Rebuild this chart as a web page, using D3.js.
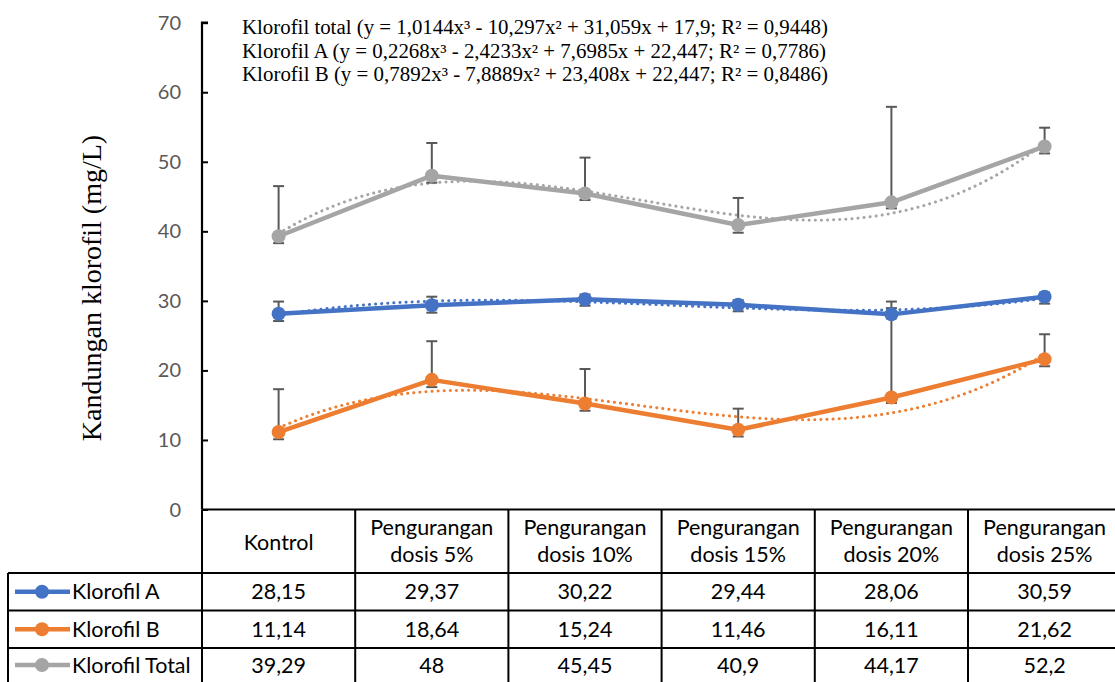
<!DOCTYPE html>
<html>
<head>
<meta charset="utf-8">
<script src="https://cdn.jsdelivr.net/npm/d3@7"></script>
<style>
  body { margin: 0; background: #fff; }
  svg { display: block; }
</style>
</head>
<body>
<div id="chart"></div>
<script>
// categories and series
var categories = ["Kontrol", "Pengurangan dosis 5%", "Pengurangan dosis 10%",
                  "Pengurangan dosis 15%", "Pengurangan dosis 20%", "Pengurangan dosis 25%"];
var seriesNames = ["Klorofil A", "Klorofil B", "Klorofil Total"];
var klorofilA = [28.15, 29.37, 30.22, 29.44, 28.06, 30.59];
var klorofilB = [11.14, 18.64, 15.24, 11.46, 16.11, 21.62];
var klorofilTotal = [39.29, 48, 45.45, 40.9, 44.17, 52.2];
var tableText = [
  ["28,15", "29,37", "30,22", "29,44", "28,06", "30,59"],
  ["11,14", "18,64", "15,24", "11,46", "16,11", "21,62"],
  ["39,29", "48", "45,45", "40,9", "44,17", "52,2"]
];
// custom error bars (plus / minus)
var errPlusA = [1.75, 1.23, 0.7, 0.66, 0.9, 0.6];
var errMinusA = [1.05, 1.07, 0.92, 0.94, 0.56, 0.99];
var errPlusB = [6.16, 5.56, 4.96, 3.04, 13.79, 3.58];
var errMinusB = [1.04, 1.04, 1.04, 0.96, 0.8, 1.02];
var errPlusTotal = [7.21, 4.7, 5.15, 3.9, 13.73, 2.7];
var errMinusTotal = [0.99, 1.0, 0.95, 1.1, 0.87, 1.0];
var yTicks = [0, 10, 20, 30, 40, 50, 60, 70];
var equations = [
  "Klorofil total (y = 1,0144x³ - 10,297x² + 31,059x + 17,9; R² = 0,9448)",
  "Klorofil A (y = 0,2268x³ - 2,4233x² + 7,6985x + 22,447; R² = 0,7786)",
  "Klorofil B (y = 0,7892x³ - 7,8889x² + 23,408x + 22,447; R² = 0,8486)"
];
var colors = ["#4472C4", "#ED7D31", "#A5A5A5"];

var width = 1115, height = 682;
var x0 = 202, colW = 153.2;
var rowY = [509.5, 573, 610.5, 648, 686];
var sans = "Lato, 'Open Sans', sans-serif";
var serif = "'Liberation Serif', 'Times New Roman', serif";

var svg = d3.select("#chart").append("svg")
  .attr("width", width)
  .attr("height", height);

var x = d3.scaleBand()
  .domain(categories)
  .range([x0, x0 + colW * categories.length]);

var y = d3.scaleLinear()
  .domain([0, 70])
  .range([509.5, 22.7]);

// y axis
var yAxis = svg.append("g")
  .attr("transform", "translate(" + x0 + ",0)")
  .call(d3.axisRight(y).tickValues(yTicks).tickSize(6).tickFormat(""));
yAxis.select(".domain").attr("stroke", "#000").attr("stroke-width", 2.2)
  .attr("d", "M6," + y(70) + "H0V" + y(0));
yAxis.selectAll(".tick line").attr("stroke", "#000").attr("stroke-width", 2);

svg.append("g").selectAll("text")
  .data(yTicks)
  .enter().append("text")
  .attr("x", 181)
  .attr("y", function(d) { return y(d); })
  .attr("dy", "0.35em")
  .attr("text-anchor", "end")
  .attr("font-family", sans)
  .attr("font-size", 20)
  .attr("fill", "#595959")
  .text(function(d) { return d; });

svg.append("text")
  .attr("transform", "translate(101,288) rotate(-90)")
  .attr("text-anchor", "middle")
  .attr("font-family", serif)
  .attr("font-size", 28)
  .attr("fill", "#000")
  .text("Kandungan klorofil (mg/L)");

// equations
svg.append("g").selectAll("text")
  .data(equations)
  .enter().append("text")
  .attr("x", 242)
  .attr("y", function(d, i) { return 34 + i * 23.5; })
  .attr("font-family", serif)
  .attr("font-size", 20)
  .attr("textLength", function(d, i) { return i === 0 ? 586 : (i === 1 ? 584 : 586); })
  .attr("lengthAdjust", "spacingAndGlyphs")
  .attr("fill", "#000")
  .text(function(d) { return d; });

// cubic least-squares trendline from the series
function cubicFit(vals) {
  var n = 4, A = [], b = [];
  for (var r = 0; r < n; r++) {
    A.push([0, 0, 0, 0]); b.push(0);
  }
  vals.forEach(function(v, i) {
    var xi = i + 1;
    for (var r = 0; r < n; r++) {
      for (var c = 0; c < n; c++) A[r][c] += Math.pow(xi, r + c);
      b[r] += v * Math.pow(xi, r);
    }
  });
  for (var p = 0; p < n; p++) {
    var m = p;
    for (var r = p + 1; r < n; r++) if (Math.abs(A[r][p]) > Math.abs(A[m][p])) m = r;
    var t = A[p]; A[p] = A[m]; A[m] = t;
    var tb = b[p]; b[p] = b[m]; b[m] = tb;
    for (var r = p + 1; r < n; r++) {
      var f = A[r][p] / A[p][p];
      for (var c = p; c < n; c++) A[r][c] -= f * A[p][c];
      b[r] -= f * b[p];
    }
  }
  var coef = [0, 0, 0, 0];
  for (var r = n - 1; r >= 0; r--) {
    var s = b[r];
    for (var c = r + 1; c < n; c++) s -= A[r][c] * coef[c];
    coef[r] = s / A[r][r];
  }
  return function(xv) { return coef[0] + coef[1] * xv + coef[2] * xv * xv + coef[3] * xv * xv * xv; };
}

var series = [
  { name: seriesNames[0], values: klorofilA, plus: errPlusA, minus: errMinusA, color: colors[0] },
  { name: seriesNames[1], values: klorofilB, plus: errPlusB, minus: errMinusB, color: colors[1] },
  { name: seriesNames[2], values: klorofilTotal, plus: errPlusTotal, minus: errMinusTotal, color: colors[2] }
];

var cx = function(i) { return x(categories[i]) + x.bandwidth() / 2; };
var xPos = d3.scaleLinear().domain([1, 6]).range([cx(0), cx(5)]);

var plot = svg.append("g");

// trendlines
series.forEach(function(s) {
  var f = cubicFit(s.values);
  var pts = d3.range(1, 6.001, 0.05);
  plot.append("path")
    .datum(pts)
    .attr("fill", "none")
    .attr("stroke", s.color)
    .attr("stroke-width", 3)
    .attr("stroke-linecap", "round")
    .attr("stroke-dasharray", "0.1 6")
    .attr("d", d3.line().x(function(d) { return xPos(d); }).y(function(d) { return y(f(d)); }));
});

// error bars
series.forEach(function(s) {
  var g = plot.append("g");
  s.values.forEach(function(v, i) {
    var top = y(v + s.plus[i]), bot = y(v - s.minus[i]), xc = cx(i);
    g.append("line").attr("x1", xc).attr("x2", xc).attr("y1", top).attr("y2", bot)
      .attr("stroke", "#595959").attr("stroke-width", 2);
    [top, bot].forEach(function(yy) {
      g.append("line").attr("x1", xc - 5.5).attr("x2", xc + 5.5).attr("y1", yy).attr("y2", yy)
        .attr("stroke", "#595959").attr("stroke-width", 2);
    });
  });
});

// lines and markers
series.forEach(function(s) {
  plot.append("path")
    .datum(s.values)
    .attr("fill", "none")
    .attr("stroke", s.color)
    .attr("stroke-width", 4.5)
    .attr("stroke-linejoin", "round")
    .attr("d", d3.line().x(function(d, i) { return cx(i); }).y(function(d) { return y(d); }));
  plot.append("g").selectAll("circle")
    .data(s.values)
    .enter().append("circle")
    .attr("cx", function(d, i) { return cx(i); })
    .attr("cy", function(d) { return y(d); })
    .attr("r", 7)
    .attr("fill", s.color);
});

// data table
var table = svg.append("g")
  .attr("font-family", sans)
  .attr("font-size", 21.5)
  .attr("fill", "#000");
var xEnd = x0 + colW * categories.length;
var lineStyle = function(sel) { return sel.attr("stroke", "#000").attr("stroke-width", 2); };

lineStyle(table.append("line").attr("x1", x0).attr("x2", xEnd).attr("y1", rowY[0]).attr("y2", rowY[0]));
rowY.slice(1).forEach(function(ry) {
  lineStyle(table.append("line").attr("x1", 8).attr("x2", xEnd).attr("y1", ry).attr("y2", ry));
});
lineStyle(table.append("line").attr("x1", 8).attr("x2", 8).attr("y1", rowY[1]).attr("y2", height));
categories.forEach(function(c, i) {
  var xl = x(c);
  if (i > 0) lineStyle(table.append("line").attr("x1", xl).attr("x2", xl).attr("y1", rowY[0]).attr("y2", height));
});
lineStyle(table.append("line").attr("x1", x0).attr("x2", x0).attr("y1", rowY[0]).attr("y2", height));

// header
categories.forEach(function(c, i) {
  var t = table.append("text")
    .attr("x", cx(i))
    .attr("text-anchor", "middle");
  if (c === "Kontrol") {
    t.attr("y", 550).text(c);
  } else {
    var parts = c.split(" ");
    t.append("tspan").attr("x", cx(i)).attr("y", 535).text(parts[0]);
    t.append("tspan").attr("x", cx(i)).attr("y", 562).text(parts[1] + " " + parts[2]);
  }
});

// rows
series.forEach(function(s, r) {
  var ym = (rowY[r + 1] + Math.min(rowY[r + 2], height)) / 2;
  table.append("line")
    .attr("x1", 15).attr("x2", 70).attr("y1", ym).attr("y2", ym)
    .attr("stroke", s.color).attr("stroke-width", 4.5);
  table.append("circle")
    .attr("cx", 42).attr("cy", ym).attr("r", 7).attr("fill", s.color);
  table.append("text")
    .attr("x", 72).attr("y", ym).attr("dy", "0.35em")
    .text(s.name);
  tableText[r].forEach(function(t, i) {
    table.append("text")
      .attr("x", cx(i)).attr("y", ym).attr("dy", "0.35em")
      .attr("text-anchor", "middle")
      .text(t);
  });
});
</script>
</body>
</html>
